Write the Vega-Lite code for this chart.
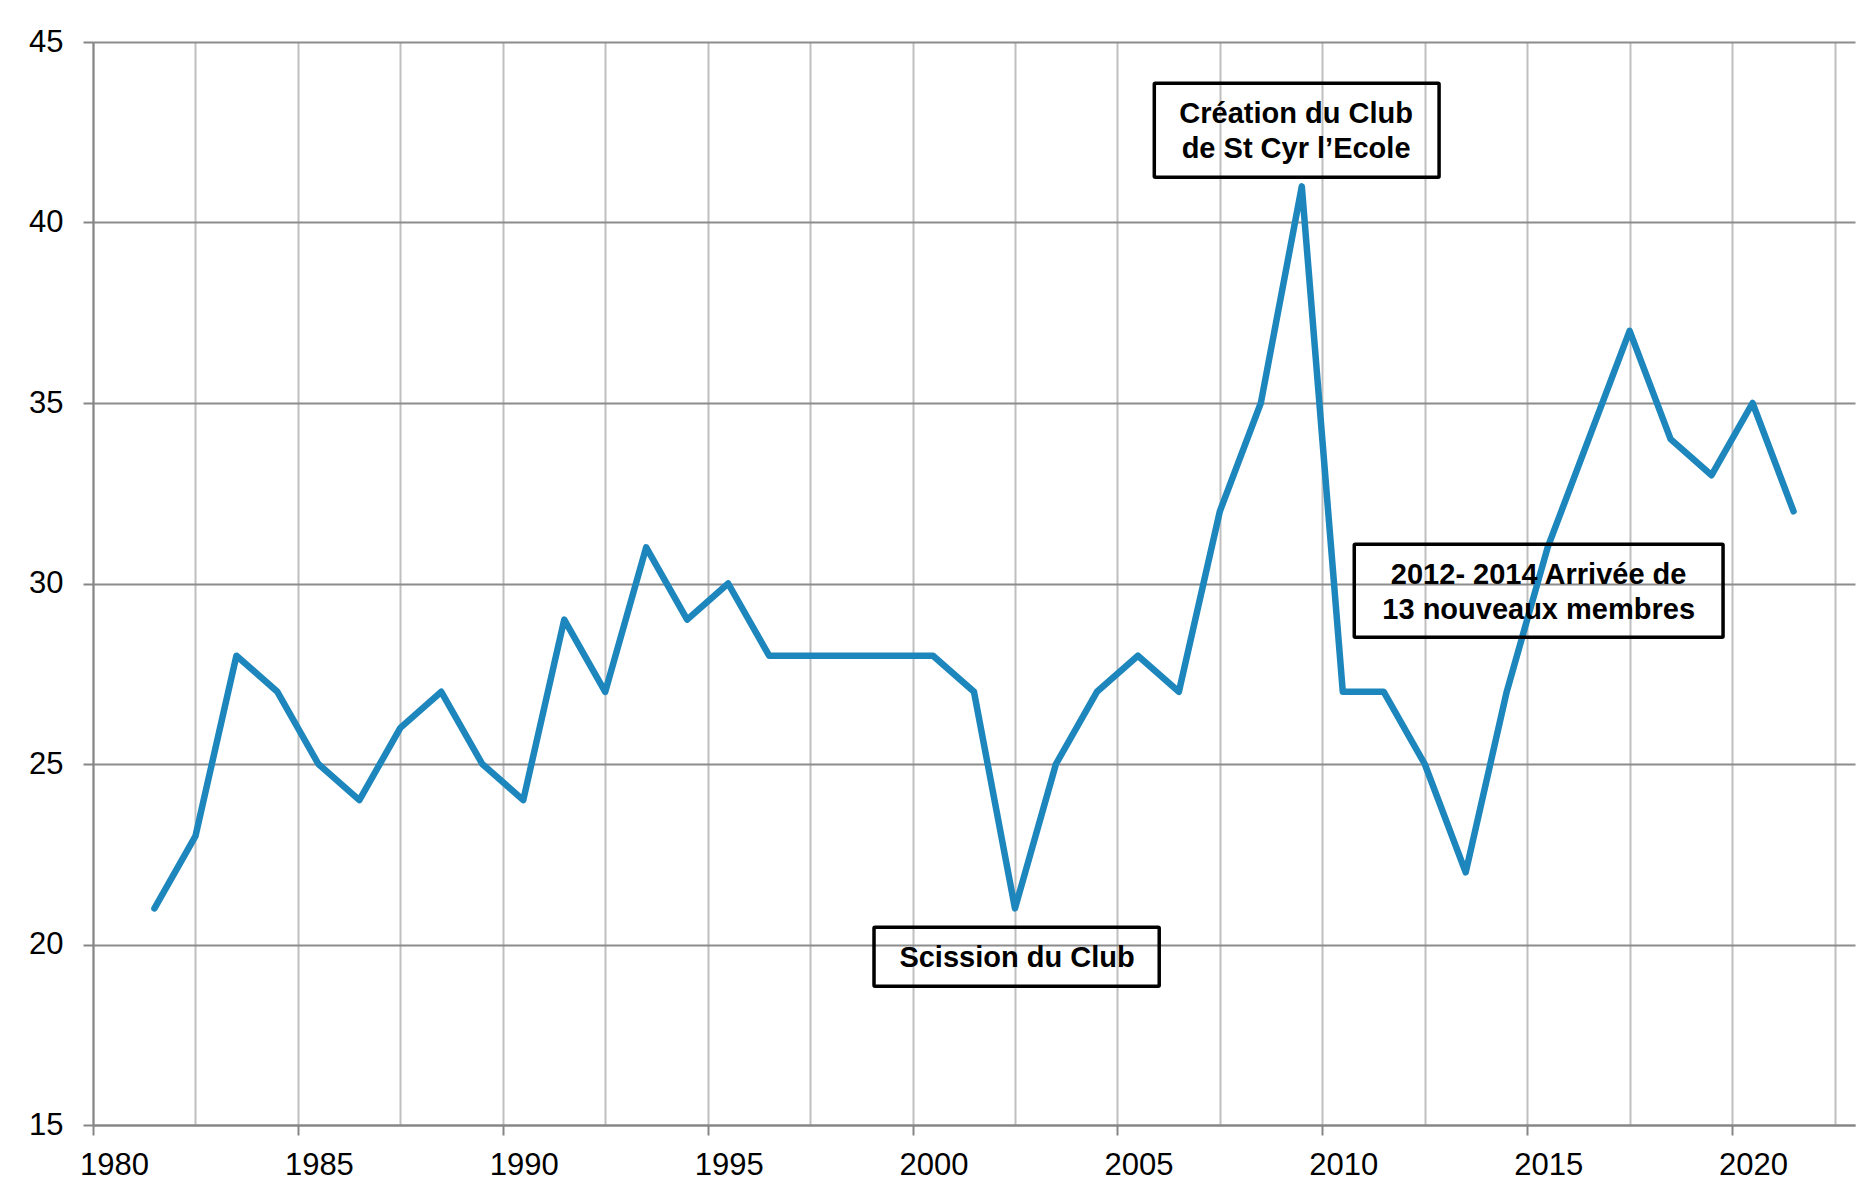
{
  "$schema": "https://vega.github.io/schema/vega-lite/v6.json",
  "width": 1762,
  "height": 1083,
  "autosize": {"type": "none"},
  "padding": {"left": 93, "top": 42, "right": 19, "bottom": 68},
  "background": "white",
  "config": {
    "view": {"stroke": null},
    "font": "Liberation Sans"
  },
  "datasets": {
    "serie": [
      {"annee": 1981.5, "membres": 21},
      {"annee": 1982.5, "membres": 23},
      {"annee": 1983.5, "membres": 28},
      {"annee": 1984.5, "membres": 27},
      {"annee": 1985.5, "membres": 25},
      {"annee": 1986.5, "membres": 24},
      {"annee": 1987.5, "membres": 26},
      {"annee": 1988.5, "membres": 27},
      {"annee": 1989.5, "membres": 25},
      {"annee": 1990.5, "membres": 24},
      {"annee": 1991.5, "membres": 29},
      {"annee": 1992.5, "membres": 27},
      {"annee": 1993.5, "membres": 31},
      {"annee": 1994.5, "membres": 29},
      {"annee": 1995.5, "membres": 30},
      {"annee": 1996.5, "membres": 28},
      {"annee": 1997.5, "membres": 28},
      {"annee": 1998.5, "membres": 28},
      {"annee": 1999.5, "membres": 28},
      {"annee": 2000.5, "membres": 28},
      {"annee": 2001.5, "membres": 27},
      {"annee": 2002.5, "membres": 21},
      {"annee": 2003.5, "membres": 25},
      {"annee": 2004.5, "membres": 27},
      {"annee": 2005.5, "membres": 28},
      {"annee": 2006.5, "membres": 27},
      {"annee": 2007.5, "membres": 32},
      {"annee": 2008.5, "membres": 35},
      {"annee": 2009.5, "membres": 41},
      {"annee": 2010.5, "membres": 27},
      {"annee": 2011.5, "membres": 27},
      {"annee": 2012.5, "membres": 25},
      {"annee": 2013.5, "membres": 22},
      {"annee": 2014.5, "membres": 27},
      {"annee": 2015.5, "membres": 31},
      {"annee": 2016.5, "membres": 34},
      {"annee": 2017.5, "membres": 37},
      {"annee": 2018.5, "membres": 34},
      {"annee": 2019.5, "membres": 33},
      {"annee": 2020.5, "membres": 35},
      {"annee": 2021.5, "membres": 32}
    ],
    "notes": [
      {"texte": ["Création du Club", "de St Cyr l’Ecole"], "xa": 2005.9, "xb": 2012.85, "ya": 41.255, "yb": 43.86, "xt": 2009.36, "yt": 42.77},
      {"texte": ["2012- 2014 Arrivée de", "13 nouveaux membres"], "xa": 2010.78, "xb": 2019.78, "ya": 28.51, "yb": 31.09, "xt": 2015.28, "yt": 30.0},
      {"texte": ["Scission du Club"], "xa": 1999.06, "xb": 2006.02, "ya": 18.845, "yb": 20.48, "xt": 2002.55, "yt": 19.38}
    ]
  },
  "layer": [
    {
      "data": {"name": "serie"},
      "mark": {"type": "line", "color": "#1d86bc", "strokeWidth": 6.5, "strokeCap": "round", "strokeJoin": "round"},
      "encoding": {
        "x": {
          "field": "annee", "type": "quantitative", "title": null,
          "scale": {"domain": [1980, 2023], "nice": false, "zero": false},
          "axis": {
            "title": null,
            "values": [1980, 1982.5, 1985, 1987.5, 1990, 1992.5, 1995, 1997.5, 2000, 2002.5, 2005, 2007.5, 2010, 2012.5, 2015, 2017.5, 2020, 2022.5],
            "format": "d",
            "labelExpr": "datum.value % 5 === 0 ? datum.label : ''",
            "labelFontSize": 31,
            "labelColor": "#000000",
            "labelPadding": 15,
            "labelOffset": 21,
            "labelFlush": false,
            "labelOverlap": false,
            "tickSize": 10,
            "tickWidth": 2,
            "tickColor": "#868686",
            "tickOpacity": {"condition": {"test": "datum.value % 5 !== 0", "value": 0}, "value": 1},
            "domainColor": "#868686",
            "domainWidth": 2,
            "grid": true,
            "gridColor": "#bfbfbf",
            "gridWidth": 2,
            "gridOpacity": 1
          }
        },
        "y": {
          "field": "membres", "type": "quantitative", "title": null,
          "scale": {"domain": [15, 45], "nice": false, "zero": false},
          "axis": {
            "title": null,
            "values": [15, 20, 25, 30, 35, 40, 45],
            "labelFontSize": 31,
            "labelColor": "#000000",
            "labelPadding": 20,
            "tickSize": 10,
            "tickWidth": 2,
            "tickColor": "#868686",
            "domainColor": "#868686",
            "domainWidth": 2,
            "grid": true,
            "gridColor": "#8c8c8c",
            "gridWidth": 2,
            "gridOpacity": 1
          }
        }
      }
    },
    {
      "data": {"name": "notes"},
      "mark": {"type": "rect", "fill": null, "fillOpacity": 0, "stroke": "#000000", "strokeWidth": 3.5, "cornerRadius": 1},
      "encoding": {
        "x": {"field": "xa", "type": "quantitative", "title": null},
        "x2": {"field": "xb"},
        "y": {"field": "ya", "type": "quantitative", "title": null},
        "y2": {"field": "yb"}
      }
    },
    {
      "data": {"name": "notes"},
      "mark": {"type": "text", "font": "Liberation Sans", "fontWeight": "bold", "fontSize": 29, "align": "center", "baseline": "alphabetic", "lineHeight": 35, "color": "#000000"},
      "encoding": {
        "x": {"field": "xt", "type": "quantitative", "title": null},
        "y": {"field": "yt", "type": "quantitative", "title": null},
        "text": {"field": "texte"}
      }
    }
  ]
}
